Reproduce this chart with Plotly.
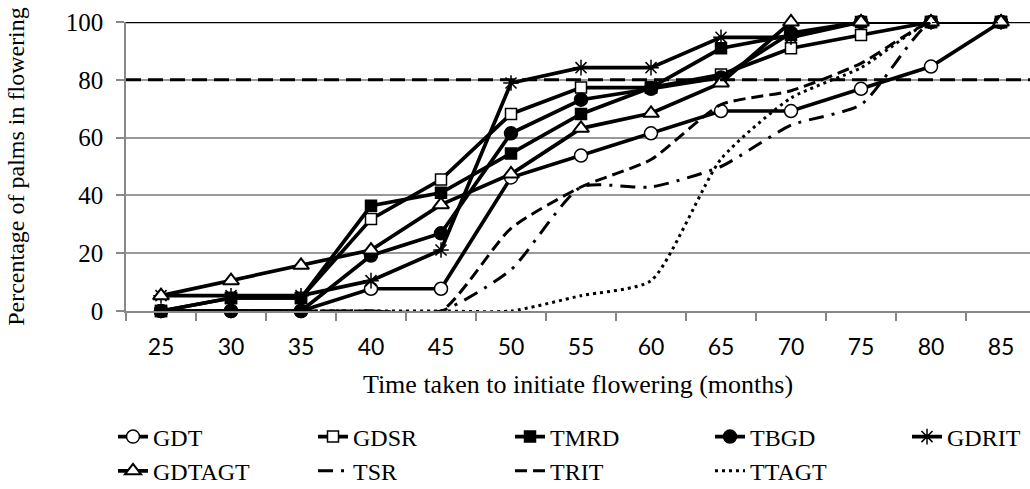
import plotly.graph_objects as go

months = ["25", "30", "35", "40", "45", "50", "55", "60", "65", "70", "75", "80", "85"]

gdt    = [0, 0, 0, 7.7, 7.7, 46.2, 53.8, 61.5, 69.2, 69.2, 76.9, 84.6, 100]
gdsr   = [0, 4.5, 4.5, 31.8, 45.5, 68.2, 77.3, 77.3, 81.8, 90.9, 95.5, 100, 100]
tmrd   = [0, 4.5, 4.5, 36.4, 40.9, 54.5, 68.2, 77.3, 90.9, 95.5, 100, 100, 100]
tbgd   = [0, 0, 0, 19.2, 26.9, 61.5, 73.1, 76.9, 80.8, 96.2, 100, 100, 100]
gdrit  = [5.3, 5.3, 5.3, 10.5, 21.1, 78.9, 84.2, 84.2, 94.7, 94.7, 100, 100, 100]
gdtagt = [5.3, 10.5, 15.8, 21.1, 36.8, 47.4, 63.2, 68.4, 78.9, 100, 100, 100, 100]
tsr    = [0, 0, 0, 0, 0, 14.3, 42.9, 42.9, 50.0, 64.3, 71.4, 100, 100]
trit   = [0, 0, 0, 0, 0, 28.6, 42.9, 52.4, 71.4, 76.2, 85.7, 100, 100]
ttagt  = [0, 0, 0, 0, 0, 0, 5.3, 10.5, 52.6, 73.7, 84.2, 100, 100]

threshold = 80
y_ticks = [0, 20, 40, 60, 80, 100]

SERIF = "Liberation Serif, Times New Roman, serif"

fig = go.Figure()

solid = [
    ("GDT", gdt, "circle", "white", 13, "legend"),
    ("GDSR", gdsr, "square", "white", 11, "legend2"),
    ("TMRD", tmrd, "square", "black", 11, "legend3"),
    ("TBGD", tbgd, "circle", "black", 13, "legend4"),
    ("GDRIT", gdrit, "asterisk-open", "black", 13, "legend5"),
]
for name, vals, sym, fill, size, lg in solid:
    fig.add_trace(go.Scatter(
        x=months, y=vals, name=name, mode="lines+markers", legend=lg,
        line=dict(color="black", width=3.7),
        marker=dict(symbol=sym, size=size, color=fill,
                    line=dict(color="black", width=1.5)),
        cliponaxis=False,
    ))

fig.add_trace(go.Scatter(
    x=months, y=gdtagt, name="GDTAGT", mode="lines+markers", legend="legend",
    line=dict(color="black", width=3.7),
    marker=dict(symbol="triangle-up", size=14, color="white",
                line=dict(color="black", width=2)),
    cliponaxis=False,
))

dashed = [
    ("TSR", tsr, "15px,8px,3px,8px", "legend2"),
    ("TRIT", trit, "12px,6px", "legend3"),
    ("TTAGT", ttagt, "3px,4px", "legend4"),
]
for name, vals, dash, lg in dashed:
    fig.add_trace(go.Scatter(
        x=months, y=vals, name=name, mode="lines", legend=lg,
        line=dict(color="black", width=3, dash=dash, shape="spline", smoothing=0.6),
        cliponaxis=False,
    ))

# 80% reference line and top line
fig.add_hline(y=threshold, line=dict(color="black", width=3, dash="15px,7px"), layer="above")
fig.add_hline(y=100, line=dict(color="black", width=2.5), layer="below")

fig.update_xaxes(
    type="category",
    range=[-0.5, 12.414],
    tickson="boundaries",
    automargin=False,
    ticks="outside", ticklen=8, tickcolor="#888888", tickwidth=1.5,
    showline=True, linecolor="#888888", linewidth=1.5,
    showgrid=False,
    ticklabelstandoff=15,
    tickfont=dict(family="Lato, Liberation Sans, sans-serif", size=23, color="black"),
    title=dict(text="Time taken to initiate flowering (months)",
               font=dict(family=SERIF, size=26, color="black"), standoff=15),
)
fig.update_yaxes(
    range=[0, 100],
    tickvals=y_ticks,
    automargin=False,
    ticks="outside", ticklen=8, tickcolor="#888888", tickwidth=1.5,
    showline=True, linecolor="#888888", linewidth=1.5,
    showgrid=True, gridcolor="#999999", gridwidth=1.5,
    zeroline=False,
    ticklabelstandoff=8,
    tickfont=dict(family=SERIF, size=25, color="black"),
    title=dict(text="Percentage of palms in flowering",
               font=dict(family=SERIF, size=24, color="black"), standoff=34),
)

W0, PW, PT, PH = 126, 904, 22, 289
def px_x(px):
    return (px - W0) / PW
def px_y(py):
    return (PT + PH - py) / PH

legend_style = dict(
    orientation="v", xanchor="left", yanchor="middle",
    font=dict(family=SERIF, size=24, color="black"),
    bgcolor="rgba(0,0,0,0)", tracegroupgap=0,
)
text_starts = [153, 353, 550, 750, 947]
layout_legends = {}
for i, ts in enumerate(text_starts):
    key = "legend" if i == 0 else f"legend{i + 1}"
    ymid = 454 if i < 4 else 437
    layout_legends[key] = dict(legend_style, x=px_x(ts - 40), y=px_y(ymid))

fig.update_layout(
    width=1030, height=489,
    margin=dict(l=126, r=0, t=22, b=178, autoexpand=False),
    plot_bgcolor="white", paper_bgcolor="white",
    font=dict(family=SERIF, color="black"),
    showlegend=True,
    **layout_legends,
)

fig.write_html("out.html")
